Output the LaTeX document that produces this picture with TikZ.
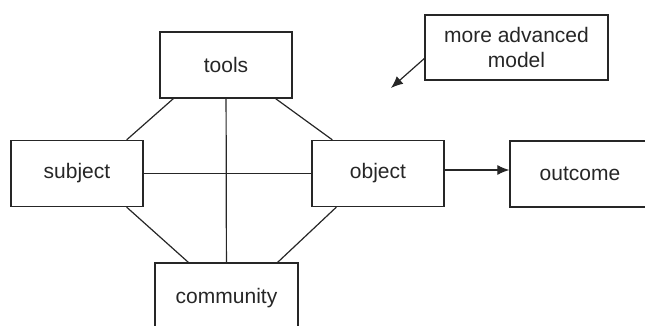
\documentclass[tikz,border=0pt]{standalone}
\usepackage{fontspec}
\setmainfont{Liberation Sans}
\usetikzlibrary{arrows.meta}

\definecolor{ink}{HTML}{262626}

\tikzset{
  box/.style={draw=ink, line width=0.65pt, rectangle, inner sep=0pt,
    minimum width=66pt, minimum height=33pt, text=ink,
    font=\fontsize{10.5}{12.5}\selectfont},
  link/.style={draw=ink, line width=0.6pt},
  flow/.style={link, -{Latex[length=6pt,width=5pt]}},
}

\begin{document}
\begin{tikzpicture}[x=0.5pt, y=-0.5pt]

  \useasboundingbox (0,0) rectangle (645,326); %% page size
  \clip (0,0) rectangle (645,326);

  %% activity triangle
  \node[box] (tools)     at (226, 65)    {tools};
  \node[box] (subject)   at (77, 173.5)  {subject};
  \node[box] (object)    at (378, 173.5) {object};
  \node[box, minimum width=71.5pt, minimum height=35pt]
    (community) at (226.5, 298) {community};
  \node[box, minimum width=70pt] (outcome) at (580, 174) {outcome};

  %% note box
  \node[box, minimum width=91.5pt, minimum height=32.5pt, align=center,
    text depth=0pt] (note) at (516.5, 47.5) {more advanced\\model};
  \coordinate (hint) at (391, 88);

  %% links between the corners
  \draw[link] ([xshift=7pt]tools.south west)
    -- ([xshift=-8.5pt]subject.north east);
  \draw[link] ([xshift=-8.5pt]tools.south east)
    -- ([xshift=10.5pt]object.north west);
  \draw[link] ([xshift=-8.5pt]subject.south east)
    -- ([xshift=17pt]community.north west);
  \draw[link] ([xshift=12.5pt]object.south west)
    -- ([xshift=-10.5pt]community.north east);
  \draw[link] (tools) -- (community);
  \draw[link] (subject) -- (object);

  %% arrows
  \draw[flow] ([yshift=1.75pt]object.east)
    -- ([yshift=1.75pt]object.east -| outcome.west);
  \draw[flow] ([yshift=-5.5pt]note.west) -- (hint);

\end{tikzpicture}
\end{document}
